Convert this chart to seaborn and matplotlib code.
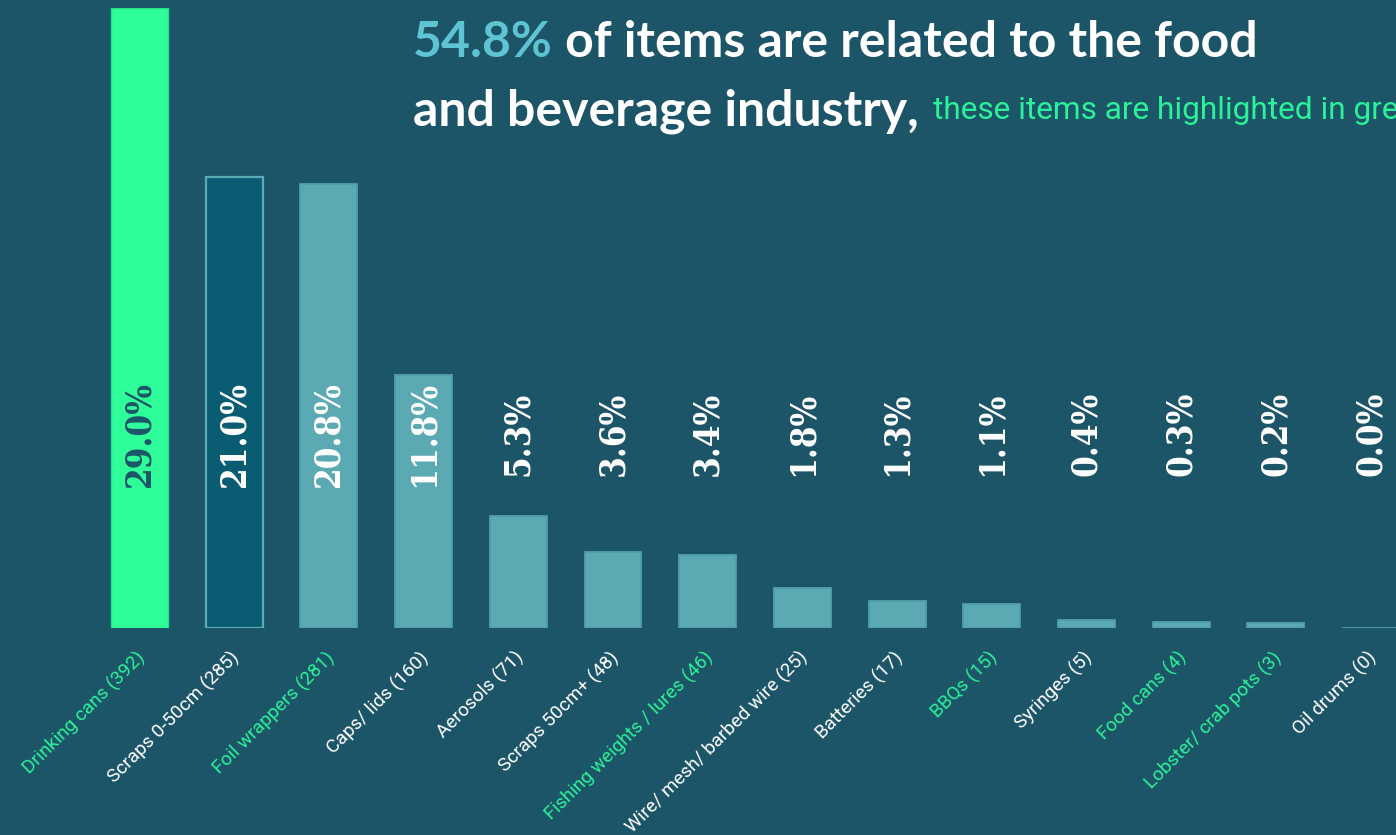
import matplotlib
matplotlib.use("Agg")
import matplotlib.pyplot as plt
import matplotlib.transforms as mtransforms
import seaborn as sns
import pandas as pd

# Metal litter items found on the beach, sorted by count
categories = [
    "Drinking cans", "Scraps 0-50cm", "Foil wrappers", "Caps/ lids", "Aerosols",
    "Scraps 50cm+", "Fishing weights / lures", "Wire/ mesh/ barbed wire",
    "Batteries", "BBQs", "Syringes", "Food cans", "Lobster/ crab pots", "Oil drums",
]
counts = [392, 285, 281, 160, 71, 48, 46, 25, 17, 15, 5, 4, 3, 0]
percents = [29.0, 21.0, 20.8, 11.8, 5.3, 3.6, 3.4, 1.8, 1.3, 1.1, 0.4, 0.3, 0.2, 0.0]
food_related = [True, False, True, False, False, False, True, False, False, True,
                False, True, True, False]
headline_share = "54.8%"

BG = "#1c5568"
GREEN = "#2efd9a"
TEAL = "#5aa9b3"
DARK = "#0a5c73"
LABEL_GREEN = "#2bf29a"
WHITE = "#ffffff"
BLUE = "#5ec3d3"

sns.set_theme(style="white")
plt.rcParams["font.family"] = ["Roboto", "DejaVu Sans"]

W, H = 1396, 835
fig = plt.figure(figsize=(W / 100, H / 100), dpi=100, facecolor=BG)
step = 94.7
ax = fig.add_axes([(139.5 - step / 2) / W, 207 / H, 14 * step / W, 620 / H])
ax.set_facecolor(BG)

df = pd.DataFrame({"item": categories, "count": counts})
face = [GREEN, DARK] + [TEAL] * (len(categories) - 2)
sns.barplot(data=df, x="item", y="count", hue="item", palette=face,
            legend=False, width=0.6, saturation=1, ax=ax)

# bar outlines
for i, patch in enumerate(ax.patches):
    if i == 0:
        patch.set_edgecolor("#27e08c")
        patch.set_linewidth(1.0)
    elif i == 1:
        patch.set_edgecolor(TEAL)
        patch.set_linewidth(1.6)
    else:
        patch.set_edgecolor("#509fa9")
        patch.set_linewidth(1.3)

ax.set_xlim(-0.5, 13.5)
ax.set_ylim(0, 392)
for s in ax.spines.values():
    s.set_visible(False)
ax.set_yticks([])
ax.set_xlabel("")
ax.set_ylabel("")

# category labels with counts
tick_labels = [f"{c} ({n})" for c, n in zip(categories, counts)]
ax.set_xticks(range(len(categories)))
ax.set_xticklabels(tick_labels, rotation=45, ha="right", rotation_mode="anchor",
                   fontsize=13.7, family=["Roboto", "DejaVu Sans"])
ax.tick_params(axis="x", length=0, pad=13)
shift = mtransforms.ScaledTranslation(-0.04, -0.02, fig.dpi_scale_trans)
for lab, food in zip(ax.get_xticklabels(), food_related):
    lab.set_color(LABEL_GREEN if food else WHITE)
    lab.set_transform(lab.get_transform() + shift)

# percentage labels
trans = mtransforms.blended_transform_factory(ax.transData, ax.transAxes)
for i, p in enumerate(percents):
    ax.text(i, 0.313, f"{p:.1f}%", transform=trans, rotation=90,
            ha="center", va="center", fontsize=25, weight="bold",
            family="DejaVu Serif", fontstretch="condensed",
            color=BG if i == 0 else WHITE)

# headline
t1 = fig.text(413 / W, 778 / H, headline_share, color=BLUE, fontsize=36,
              family="Lato", weight="bold", va="baseline", ha="left")
ax.annotate(" of items are related to the food", xy=(1, 0), xycoords=t1,
            va="bottom", ha="left", color=WHITE, fontsize=36,
            family="Lato", weight="bold", annotation_clip=False)
t3 = fig.text(413 / W, 710 / H, "and beverage industry,", color=WHITE,
              fontsize=36, family="Lato", weight="bold", va="baseline", ha="left")
ax.annotate("these items are highlighted in green", xy=(1, 716),
            xycoords=(t3, "figure pixels"), xytext=(14, 0),
            textcoords="offset pixels", va="baseline", ha="left",
            color=LABEL_GREEN, fontsize=22.8, family="Roboto",
            annotation_clip=False)

fig.savefig("out.png", dpi=100, facecolor=BG)
